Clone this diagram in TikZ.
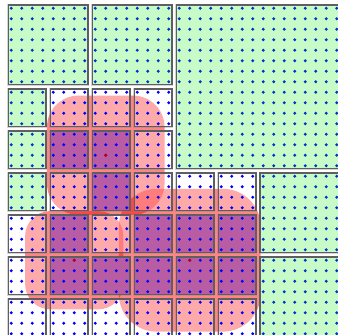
\documentclass[tikz,border=0pt]{standalone}
\usetikzlibrary{backgrounds}
\definecolor{leafgreen}{RGB}{0,235,0}
\definecolor{coverpurple}{RGB}{184,92,164}
\definecolor{framegray}{RGB}{95,95,95}

\begin{document}
\begin{tikzpicture}[x=1cm, y=-1cm,
    blob/.style={fill=red, fill opacity=0.48, rounded corners=#1},
    finecell/.style={fill=white, fill opacity=0.3},
    fullcell/.style={fill=coverpurple},
    coarsecell/.style={fill=leafgreen, fill opacity=0.22},
    halo/.style={draw=gray, draw opacity=0.35, line width=1.3pt},
    frame/.style={draw=framegray, line width=0.7pt},
    pt/.style={fill=blue, draw=none},
    centre/.style={fill=red!80!black, draw=none},
]
\useasboundingbox (-0.143,-0.071) rectangle (7.905,7.905);
\clip (-0.143,-0.071) rectangle (7.905,7.905);

% support regions
\fill[blob=0.75cm] (2.375-1.40,3.625-1.42) rectangle (2.375+1.40,3.625+1.42);
\fill[blob=0.6cm] (1.625-1.17,6.125-1.17) rectangle (1.625+1.17,6.125+1.17);
\fill[blob=0.9cm] (4.375-1.69,6.125-1.70) rectangle (4.375+1.69,6.125+1.70);

% fine cells
\foreach \c/\r in {1/2,2/2,3/2,3/3,1/4,3/4,4/4,5/4,0/5,2/5,0/6,0/7,1/7,2/7,3/7,4/7,5/7}
  \fill[finecell] (\c+0.048,\r+0.048) rectangle (\c+0.952,\r+0.952);
\foreach \c/\r in {1/3,2/3,2/4,1/5,3/5,4/5,5/5,1/6,2/6,3/6,4/6,5/6}
  \fill[fullcell] (\c+0.048,\r+0.048) rectangle (\c+0.952,\r+0.952);

% sample points
\foreach \i in {0,...,31}
  \foreach \j in {0,...,31}
    \fill[pt] ({(\i+0.5)/4},{(\j+0.5)/4}) circle (0.038);
\fill[centre] (2.375,3.625) circle (0.038);
\fill[centre] (1.625,6.125) circle (0.038);
\fill[centre] (4.375,6.125) circle (0.038);

% coarse cells
\foreach \c/\r/\s in {0/0/2,2/0/2,4/0/4,6/4/2,6/6/2,0/2/1,0/3/1,0/4/1}
  \fill[coarsecell] (\c+0.048,\r+0.048) rectangle (\c+\s-0.048,\r+\s-0.048);

% cell frames
\foreach \c/\r/\s in {0/0/2,2/0/2,4/0/4,6/4/2,6/6/2,0/2/1,0/3/1,0/4/1,
    1/2/1,2/2/1,3/2/1,1/3/1,2/3/1,3/3/1,1/4/1,2/4/1,3/4/1,4/4/1,5/4/1,
    0/5/1,1/5/1,2/5/1,3/5/1,4/5/1,5/5/1,0/6/1,1/6/1,2/6/1,3/6/1,4/6/1,5/6/1,
    0/7/1,1/7/1,2/7/1,3/7/1,4/7/1,5/7/1}
{
  \draw[halo] (\c+0.048,\r+0.048) rectangle (\c+\s-0.048,\r+\s-0.048);
  \draw[frame] (\c+0.048,\r+0.048) rectangle (\c+\s-0.048,\r+\s-0.048);
}
\end{tikzpicture}
\end{document}
